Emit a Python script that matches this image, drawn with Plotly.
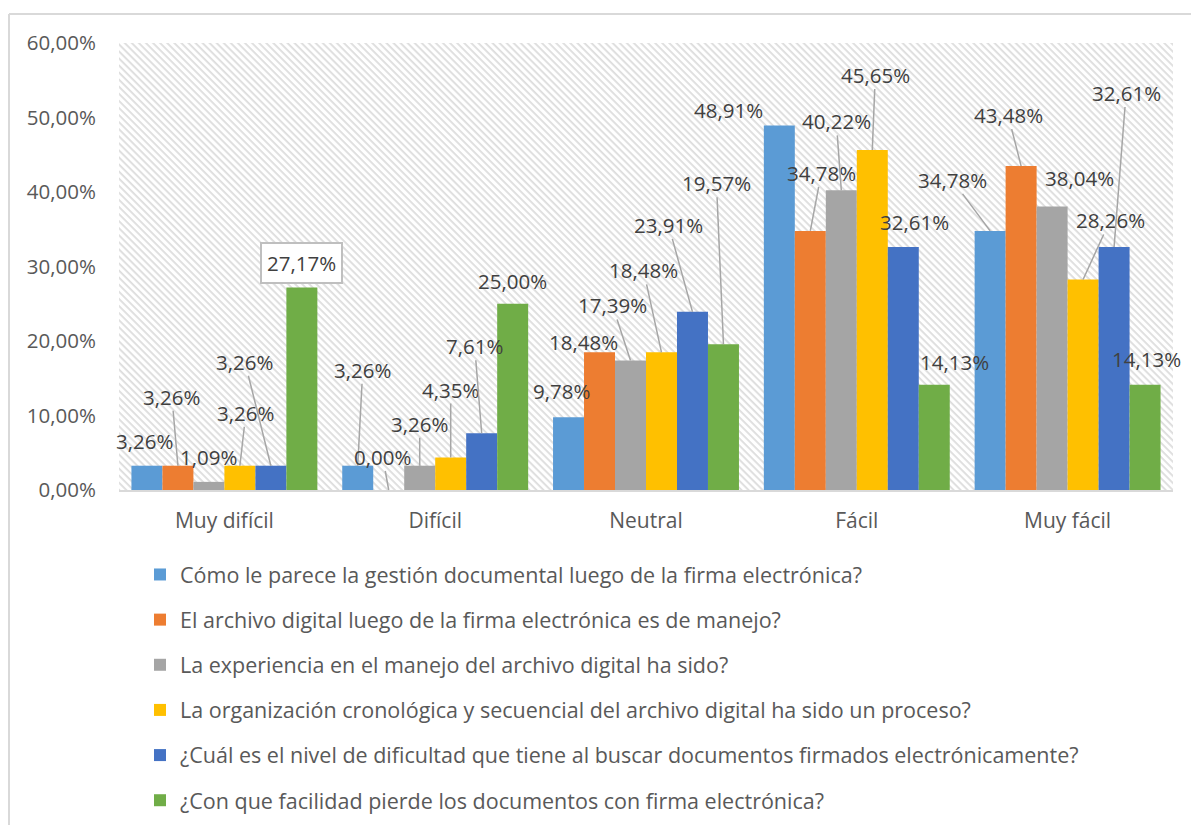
import base64
import plotly.graph_objects as go

# ---- data ----
categories = ["Muy difícil", "Difícil", "Neutral", "Fácil", "Muy fácil"]
series_names = [
    "Cómo le parece la gestión documental luego de la firma electrónica?",
    "El archivo digital luego de la firma electrónica es de manejo?",
    "La experiencia en el manejo del archivo digital ha sido?",
    "La organización cronológica y secuencial del archivo digital ha sido un proceso?",
    "¿Cuál es el nivel de dificultad que tiene al buscar documentos firmados electrónicamente?",
    "¿Con que facilidad pierde los documentos con firma electrónica?",
]
gestion = [3.26, 3.26, 9.78, 48.91, 34.78]
archivo = [3.26, 0.00, 18.48, 34.78, 43.48]
experiencia = [1.09, 3.26, 17.39, 40.22, 38.04]
organizacion = [3.26, 4.35, 18.48, 45.65, 28.26]
dificultad = [3.26, 7.61, 23.91, 32.61, 32.61]
pierde = [27.17, 25.00, 19.57, 14.13, 14.13]
series_values = [gestion, archivo, experiencia, organizacion, dificultad, pierde]
y_ticks = [0, 10, 20, 30, 40, 50, 60]
y_tick_text = [f"{t:.2f}".replace(".", ",") + "%" for t in y_ticks]

colors = ["#5B9BD5", "#ED7D31", "#A5A5A5", "#FFC000", "#4472C4", "#70AD47"]

# ---- label placement (pixel offsets from bar top: dx, dy, leader line?) ----
label_offsets = [
    # Muy difícil
    [(-2, -25, False), (-6, -69, True), (0, -25, False), (6, -53, True), (-26, -104, True), (0, -25, False)],
    # Difícil
    [(5, -96, True), (-6, -33, True), (0, -42, True), (0, -68, True), (-7, -87, True), (0, -23, False)],
    # Neutral
    [(-7, -26, False), (-16, -10, False), (-18, -55, True), (-18, -82, True), (-24, -87, True), (-7, -161, True)],
    # Fácil
    [(-51, -16, False), (11, -58, True), (-5, -69, True), (3, -75, True), (11, -25, False), (20, -23, False)],
    # Muy fácil
    [(-38, -51, True), (-13, -51, True), (27, -29, False), (27, -59, True), (12, -154, True), (1, -26, False)],
]
boxed_label = (0, 5)  # (category index, series index)

# ---- layout geometry (page pixels; body margin removed via post_script) ----
W, H = 1191, 825
PLOT_L, PLOT_R, PLOT_T, PLOT_B = 119, 1173, 43, 490
ML, MT, MR, MB = PLOT_L, PLOT_T, W - PLOT_R, H - PLOT_B
PW, PH = PLOT_R - PLOT_L, PLOT_B - PLOT_T
BARGAP = 0.118
bar_w = PW / len(categories) * (1 - BARGAP) / len(series_values)

FONT = "Open Sans"
fig = go.Figure()
for name, vals, col in zip(series_names, series_values, colors):
    fig.add_trace(go.Bar(
        x=categories, y=vals, name=name, legendgroup=name,
        marker=dict(color=col, line=dict(width=0)),
        hoverinfo="skip",
    ))

annotations = []
for ci, cat in enumerate(categories):
    for si, vals in enumerate(series_values):
        v = vals[ci]
        dx, dy, leader = label_offsets[ci][si]
        txt = f"{v:.2f}".replace(".", ",") + "%"
        boxed = (ci, si) == boxed_label
        annotations.append(dict(
            x=cat, y=v, xref="x", yref="y",
            xshift=(si - 2.5) * bar_w,
            text=txt, showarrow=True, arrowhead=0, standoff=0,
            ax=dx, ay=dy, axref="pixel", ayref="pixel",
            arrowcolor="#A6A6A6" if leader else "rgba(0,0,0,0)",
            arrowwidth=1.5,
            font=dict(family=FONT, size=20.5, color="#404040"),
            bordercolor="#BFBFBF" if boxed else "rgba(0,0,0,0)",
            borderwidth=2 if boxed else 0,
            borderpad=5 if boxed else 0,
            bgcolor="white" if boxed else "rgba(0,0,0,0)",
        ))

# hatch background for the plot area
svg = (
    f'<svg xmlns="http://www.w3.org/2000/svg" width="{PW}" height="{PH}">'
    '<defs><pattern id="h" width="5" height="5" patternUnits="userSpaceOnUse" '
    'patternTransform="rotate(45)">'
    '<rect x="0" y="0" width="5" height="1.8" fill="#DDDDDD"/></pattern></defs>'
    f'<rect width="{PW}" height="{PH}" fill="url(#h)"/></svg>'
)
svg_uri = "data:image/svg+xml;base64," + base64.b64encode(svg.encode()).decode()

def px_x(p):
    return (p - PLOT_L) / PW

def px_y(p):
    return (PLOT_B - p) / PH

LEG_TOP = 554
fig.update_layout(
    width=W, height=H,
    margin=dict(l=ML, r=MR, t=MT, b=MB, pad=0, autoexpand=False),
    paper_bgcolor="white", plot_bgcolor="white",
    separators=",.",
    barmode="group", bargap=BARGAP, bargroupgap=0,
    font=dict(family=FONT, size=21, color="#595959"),
    xaxis=dict(
        type="category", range=[-0.5, len(categories) - 0.5],
        showgrid=False, zeroline=False,
        showline=True, linecolor="#D9D9D9", linewidth=2,
        ticks="", ticklabelstandoff=11,
        tickfont=dict(family=FONT, size=21, color="#595959"),
    ),
    yaxis=dict(
        range=[0, 60], tickvals=y_ticks, ticktext=y_tick_text,
        showgrid=False, zeroline=False, showline=False, ticks="",
        ticklabelstandoff=22,
        tickfont=dict(family=FONT, size=20.5, color="#595959"),
    ),
    legend=dict(
        orientation="v",
        xref="container", yref="container",
        x=140 / W, y=1 - LEG_TOP / H,
        xanchor="left", yanchor="top",
        font=dict(family=FONT, size=21.5, color="#595959"),
        tracegroupgap=14.2, traceorder="grouped", bgcolor="rgba(0,0,0,0)",
    ),
    annotations=annotations,
    images=[dict(
        source=svg_uri, xref="paper", yref="paper", x=0, y=1,
        sizex=1, sizey=1, xanchor="left", yanchor="top",
        sizing="stretch", layer="below",
    )],
    shapes=[
        dict(type="line", xref="paper", yref="paper",
             x0=px_x(9), x1=px_x(1200), y0=px_y(14), y1=px_y(14),
             line=dict(color="#D9D9D9", width=2)),
        dict(type="line", xref="paper", yref="paper",
             x0=px_x(9), x1=px_x(9), y0=px_y(14), y1=px_y(830),
             line=dict(color="#D9D9D9", width=2)),
    ],
)

fig.write_html(
    "out.html",
    config={"displayModeBar": False},
    post_script="document.documentElement.style.margin='0';"
                "document.body.style.margin='0';"
                "document.body.style.overflow='hidden';",
)
